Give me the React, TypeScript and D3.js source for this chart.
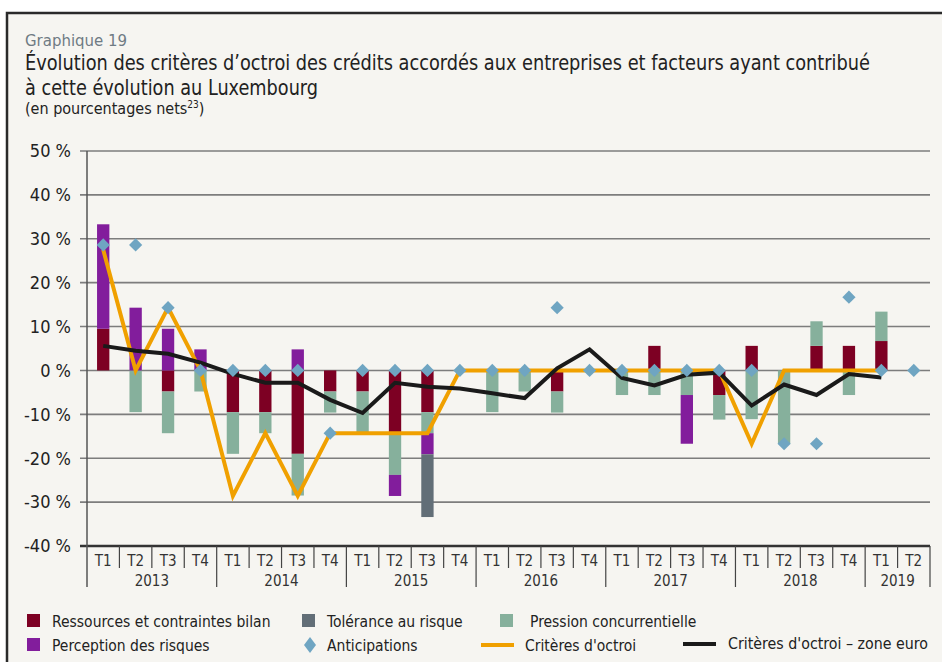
import * as d3 from "d3";
import React from "react";

// quarters 2013 T1 .. 2019 T2
const quarters = [
  "T1", "T2", "T3", "T4", "T1", "T2", "T3", "T4", "T1", "T2", "T3", "T4",
  "T1", "T2", "T3", "T4", "T1", "T2", "T3", "T4", "T1", "T2", "T3", "T4",
  "T1", "T2",
];
const years = ["2013", "2014", "2015", "2016", "2017", "2018", "2019"];

const ressources = [9.5, 0, -4.8, 0, -9.5, -9.5, -19.0, -4.8, -4.8, -14.3, -9.5, 0, 0, 0, -4.8, 0, 0, 5.6, 0, -5.6, 5.6, 0, 5.6, 5.6, 6.7, 0];
const pression = [0, -9.5, -9.5, -4.8, -9.5, -4.8, -9.5, -4.8, -9.5, -9.5, -4.8, 0, -9.5, -4.8, -4.8, 0, -5.6, -5.6, -5.6, -5.6, -11.1, -16.7, 5.6, -5.6, 6.7, 0];
const perception = [23.8, 14.3, 9.5, 4.8, 0, 0, 4.8, 0, 0, -4.8, -4.8, 0, 0, 0, 0, 0, 0, 0, -11.1, 0, 0, 0, 0, 0, 0, 0];
const tolerance = [0, 0, 0, 0, 0, 0, 0, 0, 0, 0, -14.3, 0, 0, 0, 0, 0, 0, 0, 0, 0, 0, 0, 0, 0, 0, 0];
const anticipations = [28.6, 28.6, 14.3, 0, 0, 0, 0, -14.3, 0, 0, 0, 0, 0, 0, 14.3, 0, 0, 0, 0, 0, 0, -16.7, -16.7, 16.7, 0, 0];
const criteres = [27.5, 0, 14.3, 0, -28.6, -14.3, -28.6, -14.3, -14.3, -14.3, -14.3, 0, 0, 0, 0, 0, 0, 0, 0, 0, -16.7, 0, 0, 0, 0];
const criteresZoneEuro = [5.6, 4.5, 3.8, 1.8, -0.8, -2.8, -2.8, -6.7, -9.7, -2.8, -3.7, -4.1, -5.2, -6.3, 0.5, 4.8, -1.7, -3.4, -1.0, -0.5, -8.0, -3.2, -5.6, -0.8, -1.6];
const yTicks = [50, 40, 30, 20, 10, 0, -10, -20, -30, -40];

const seriesKeys = ["ressources", "pression", "perception", "tolerance"];
const colors: Record<string, string> = {
  ressources: "#7d0023",
  pression: "#86b09c",
  perception: "#821d9c",
  tolerance: "#626e77",
};

const FONT = "'DejaVu Sans Condensed', 'DejaVu Sans', sans-serif";
const margin = { left: 87, right: 12, top: 151, bottom: 116 };
const W = 942;
const H = 662;

export default function App() {
  const x = d3
    .scaleBand<number>()
    .domain(quarters.map((_, i) => i))
    .range([margin.left, W - margin.right])
    .paddingInner(0.62)
    .paddingOuter(0.31);
  const step = x.step();
  const cx = (i: number) => (x(i) as number) + x.bandwidth() / 2;

  const y = d3.scaleLinear().domain([-40, 50]).range([H - margin.bottom, margin.top]);

  const table = quarters.map((_, i) => ({
    ressources: ressources[i],
    pression: pression[i],
    perception: perception[i],
    tolerance: tolerance[i],
  }));
  const stacked = d3
    .stack<any>()
    .keys(seriesKeys)
    .offset(d3.stackOffsetDiverging)(table);

  const line = d3
    .line<number>()
    .x((_, i) => cx(i))
    .y((d) => y(d));

  const diamond = (i: number, v: number, r = 6.6) => {
    const px = cx(i);
    const py = y(v);
    return `M${px},${py - r}L${px + r},${py}L${px},${py + r}L${px - r},${py}Z`;
  };

  const x0 = margin.left;
  const x1 = W - margin.right;
  const axisY = y(-40);

  return (
    <svg
      width={W}
      height={H}
      style={{ position: "absolute", left: 0, top: 0, display: "block" }}
      fontFamily={FONT}
    >
      <rect x={0} y={0} width={W} height={H} fill="#ffffff" />
      <rect x={7} y={13} width={W + 10} height={H + 10} fill="#f6f5f1" stroke="#2a2a2a" strokeWidth={2.5} />

      <text x={25} y={46} fontSize={16} fill="#6f7b84" textLength={102} lengthAdjust="spacingAndGlyphs">Graphique 19</text>
      <text x={25} y={70} fontSize={20.5} fill="#222" textLength={845} lengthAdjust="spacingAndGlyphs">
        Évolution des critères d’octroi des crédits accordés aux entreprises et facteurs ayant contribué
      </text>
      <text x={25} y={95} fontSize={20.5} fill="#222" textLength={293} lengthAdjust="spacingAndGlyphs">
        à cette évolution au Luxembourg
      </text>
      <text x={25} y={114} fontSize={16} fill="#222">
        (en pourcentages nets<tspan fontSize={10} dy={-6}>23</tspan><tspan dy={6}>)</tspan>
      </text>

      {/* grid + y axis */}
      {yTicks.map((t) => (
        <g key={t}>
          <line
            x1={x0 - 7}
            x2={x1}
            y1={y(t)}
            y2={y(t)}
            stroke={t === -40 ? "#333" : "#7d7d7d"}
            strokeWidth={t === -40 ? 2.5 : 1.6}
          />
          <text x={71} y={y(t)} dy="0.35em" textAnchor="end" fontSize={18} fill="#222">
            {`${t} %`}
          </text>
        </g>
      ))}
      <line x1={x0} x2={x0} y1={y(50)} y2={axisY + 41} stroke="#555" strokeWidth={1.5} />

      {/* bars */}
      {stacked.map((s) => (
        <g key={s.key} fill={colors[s.key]}>
          {s.map((d, i) =>
            d[1] - d[0] !== 0 ? (
              <rect
                key={i}
                x={x(i)}
                width={x.bandwidth()}
                y={y(d[1])}
                height={y(d[0]) - y(d[1])}
              />
            ) : null
          )}
        </g>
      ))}

      <path d={line(criteres) || ""} fill="none" stroke="#f0a000" strokeWidth={4} strokeLinejoin="miter" />
      <path d={line(criteresZoneEuro) || ""} fill="none" stroke="#1a1a1a" strokeWidth={4} strokeLinejoin="miter" />
      {anticipations.map((v, i) => (
        <path key={i} d={diamond(i, v)} fill="#6fa5c2" />
      ))}

      {/* category axis */}
      {quarters.map((q, i) => (
        <g key={i}>
          <text x={cx(i)} y={axisY + 20} textAnchor="middle" fontSize={15} fill="#333">{q}</text>
          {i > 0 && (
            <line
              x1={x0 + step * i}
              x2={x0 + step * i}
              y1={axisY}
              y2={axisY + (i % 4 === 0 ? 41 : 22)}
              stroke="#444"
              strokeWidth={1.2}
            />
          )}
        </g>
      ))}
      <line x1={x1} x2={x1} y1={axisY} y2={axisY + 41} stroke="#444" strokeWidth={1.2} />
      {years.map((yr, k) => {
        const a = k * 4;
        const b = Math.min(a + 4, quarters.length);
        return (
          <text key={yr} x={x0 + step * (a + b) / 2} y={axisY + 40} textAnchor="middle" fontSize={15} fill="#333">
            {yr}
          </text>
        );
      })}

      {/* legend */}
      <g fontSize={15.5} fill="#222">
        <rect x={27} y={614} width={13} height={13} fill={colors.ressources} />
        <text x={52} y={627}>Ressources et contraintes bilan</text>
        <rect x={302} y={614} width={13} height={13} fill={colors.tolerance} />
        <text x={327} y={627}>Tolérance au risque</text>
        <rect x={500} y={614} width={13} height={13} fill={colors.pression} />
        <text x={530} y={627}>Pression concurrentielle</text>

        <rect x={27} y={638} width={13} height={13} fill={colors.perception} />
        <text x={52} y={651}>Perception des risques</text>
        <path d="M310,637L316,645L310,653L304,645Z" fill="#6fa5c2" />
        <text x={327} y={651}>Anticipations</text>
        <line x1={481} x2={514} y1={645} y2={645} stroke="#f0a000" strokeWidth={4} />
        <text x={525} y={651}>Critères d'octroi</text>
        <line x1={683} x2={716} y1={644} y2={644} stroke="#1a1a1a" strokeWidth={4} />
        <text x={728} y={649} textLength={200} lengthAdjust="spacingAndGlyphs">Critères d'octroi – zone euro</text>
      </g>
    </svg>
  );
}
